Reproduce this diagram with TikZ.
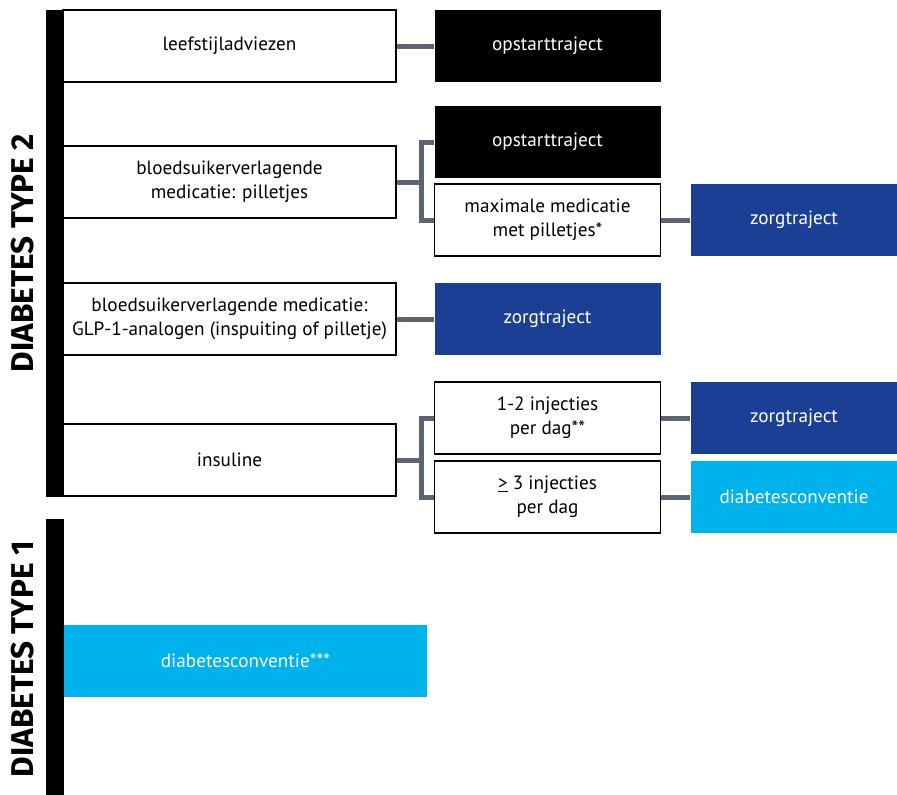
\documentclass[tikz,border=0pt]{standalone}
\usepackage{fontspec}
\setmainfont{PT Sans}
\newfontfamily\titlefont{Fira Sans}
\definecolor{zblue}{HTML}{1B3F95}
\definecolor{cblue}{HTML}{00B2EB}
\definecolor{conngray}{HTML}{5C6473}
\begin{document}
\begin{tikzpicture}[x=1pt,y=-1pt,
  box/.style={draw=black, line width=1.5pt, fill=white, minimum height=72pt, inner sep=0pt, align=center, font=\fontsize{19.2}{24}\selectfont},
  colA/.style={box, minimum width=333pt},
  colB/.style={box, minimum width=226pt},
  colC/.style={box, minimum width=206pt},
  blackbox/.style={fill=black, draw=none, text=white},
  bluebox/.style={fill=zblue, draw=none, text=white},
  cyanbox/.style={fill=cblue, draw=none, text=white},
  conn/.style={draw=conngray, line width=5pt},
  sidebar/.style={fill=black},
  title/.style={rotate=90, font=\titlefont\bfseries\fontsize{31.5}{33}\selectfont}
]
\useasboundingbox (0,0) rectangle (897,795);
% column 1
\node[colA] (leef) at (229.5,46) {leefstijladviezen};
\node[colA] (pil) at (229.5,182) {bloedsuikerverlagende\\medicatie: pilletjes};
\node[colA] (glp) at (229.5,319) {bloedsuikerverlagende medicatie:\\GLP-1-analogen (inspuiting of pilletje)};
\node[colA] (ins) at (229.5,460) {insuline};
% column 2
\node[colB, blackbox] (o1) at (547.5,46) {opstarttraject};
\node[colB, blackbox] (o2) at (547.5,142) {opstarttraject};
\node[colB] (max) at (547.5,220) {maximale medicatie\\met pilletjes*};
\node[colB, bluebox] (z1) at (547.5,319) {zorgtraject};
\node[colB] (inj1) at (547.5,418) {1-2 injecties\\per dag**};
\node[colB] (inj3) at (547.5,497) {\underline{>} 3 injecties\\per dag};
% column 3
\node[colC, bluebox] (z2) at (794,220) {zorgtraject};
\node[colC, bluebox] (z3) at (794,418) {zorgtraject};
\node[colC, cyanbox] (dc) at (794,497) {diabetesconventie};
% type 1
\node[box, cyanbox, minimum width=363pt] (dc1) at (245.5,661) {diabetesconventie***};
% side bars
\fill[sidebar] (46,10) rectangle (64,497);
\fill[sidebar] (46,519) rectangle (64,795);
\node[title] (t2) at (23,253) {DIABETES TYPE 2};
\node[title] (t1) at (23,659) {DIABETES TYPE 1};
% connectors
\draw[conn] (leef.east) -- (o1.west);
\draw[conn] (pil.east) -- ++(24.5,0) coordinate (j1);
\draw[conn] (o2.west) -| (j1) |- (max.west);
\draw[conn] (max.east) -- (z2.west);
\draw[conn] (glp.east) -- (z1.west);
\draw[conn] (ins.east) -- ++(24.5,0) coordinate (j2);
\draw[conn] (inj1.west) -| (j2) |- (inj3.west);
\draw[conn] (inj1.east) -- (z3.west);
\draw[conn] (inj3.east) -- (dc.west);
\end{tikzpicture}
\end{document}
